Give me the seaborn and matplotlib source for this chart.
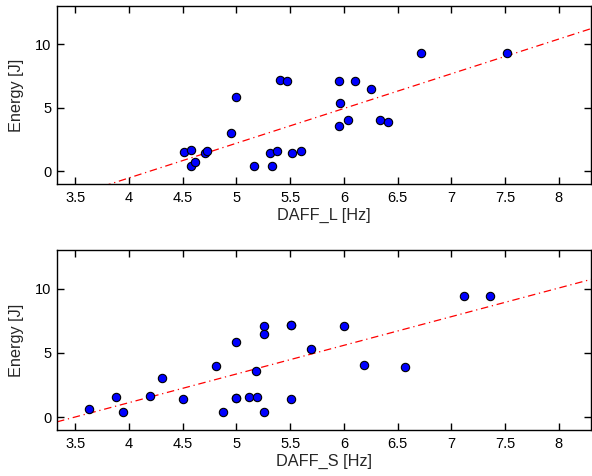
import numpy as np
import pandas as pd
import seaborn as sns
import matplotlib.pyplot as plt

# Valores
daff_l = [4.51, 4.58, 4.575, 4.615, 4.71, 4.73, 4.95, 5.0, 5.165, 5.31, 5.33, 5.38,
          5.41, 5.475, 5.515, 5.60, 5.954, 6.10, 5.963, 6.25, 5.954, 6.037, 6.34, 6.41,
          6.714, 7.518]
energy_l = [1.55, 1.68, 0.42, 0.73, 1.47, 1.6, 3.04, 5.85, 0.42, 1.47, 0.42, 1.57,
            7.2, 7.1, 1.47, 1.57, 7.1, 7.1, 5.35, 6.5, 3.6, 4.0, 4.0, 3.89,
            9.32, 9.32]

daff_s = [3.627, 3.882, 3.941, 4.196, 4.31, 4.506, 4.814, 4.873, 5.0, 5.0, 5.0, 5.12,
          5.19, 5.186, 5.255, 5.255, 5.255, 5.509, 5.509, 5.509, 5.69, 6.0, 6.185, 6.566,
          7.122, 7.363]
energy_s = [0.66, 1.55, 0.37, 1.68, 3.02, 1.44, 3.99, 0.37, 5.85, 1.52, 1.52, 1.55,
            1.55, 3.62, 7.09, 6.48, 0.37, 7.14, 7.14, 1.44, 5.31, 7.07, 4.06, 3.87,
            9.4, 9.4]

# recta de ajuste (pendiente, ordenada)
fit_l = (2.73, -11.44)
fit_s = (2.23, -7.79)

xticks = [3.5, 4, 4.5, 5, 5.5, 6, 6.5, 7, 7.5, 8]
xtick_labels = ['3.5', '4', '4.5', '5', '5.5', '6', '6.5', '7', '7.5', '8']
yticks = [0, 5, 10]

sns.set_style("ticks")
plt.rcParams['font.family'] = ['Liberation Sans', 'DejaVu Sans']

fig = plt.figure(figsize=(5.92, 4.76), dpi=100)
ax1 = fig.add_axes([0.0963, 0.6134, 0.902, 0.374])
ax2 = fig.add_axes([0.0963, 0.0966, 0.902, 0.378])

paneles = [(ax1, daff_l, energy_l, fit_l, 'DAFF_L [Hz]'),
           (ax2, daff_s, energy_s, fit_s, 'DAFF_S [Hz]')]

for ax, x, y, fit, etiqueta in paneles:
    df = pd.DataFrame({'x': x, 'y': y})
    xs = np.linspace(3.33, 8.3, 100)
    ax.plot(xs, fit[0] * xs + fit[1], color='red', linestyle=(0, (6, 3, 1, 3)),
            linewidth=0.9, zorder=1)
    sns.scatterplot(data=df, x='x', y='y', ax=ax, color='#0000ff', edgecolor='black',
                    linewidth=0.8, s=36, zorder=3)
    ax.set_xlim(3.33, 8.3)
    ax.set_ylim(-1, 13)
    ax.set_xticks(xticks)
    ax.set_xticklabels(xtick_labels)
    ax.set_yticks(yticks)
    ax.tick_params(direction='in', top=True, right=True, length=5, width=1,
                   labelsize=10.5, colors='black')
    ax.tick_params(axis='x', pad=5)
    ax.tick_params(axis='y', pad=4)
    for sp in ax.spines.values():
        sp.set_visible(True)
        sp.set_linewidth(1.0)
        sp.set_color('black')
    ax.set_xlabel(etiqueta, fontsize=11.7, labelpad=2)
    ax.set_ylabel('Energy [J]', fontsize=11.7, labelpad=8)

plt.savefig('out.png', dpi=100)
